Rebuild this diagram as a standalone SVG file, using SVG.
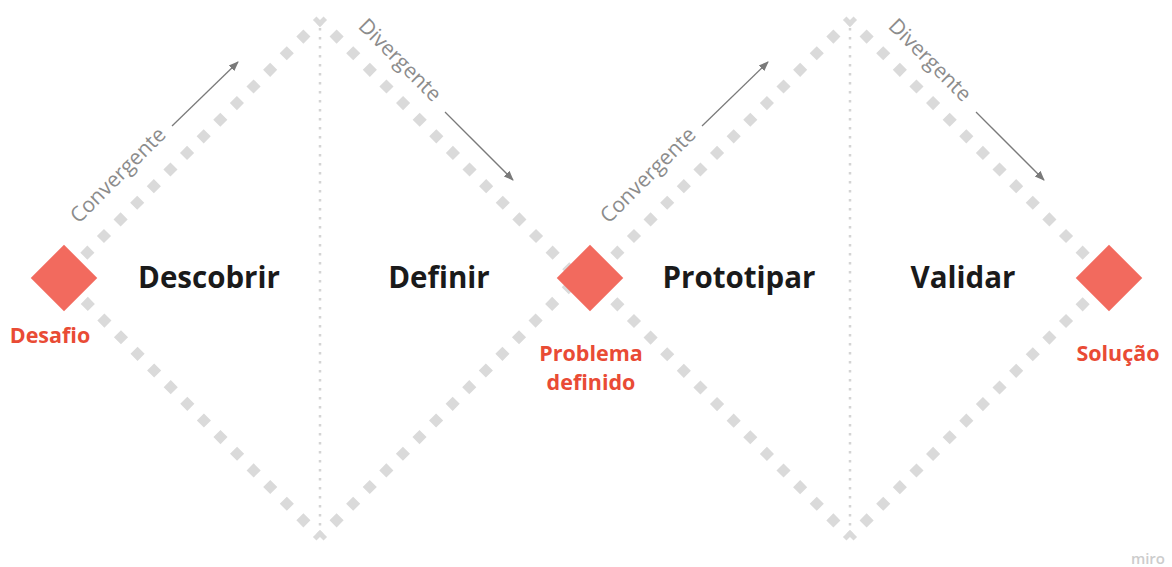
<svg xmlns="http://www.w3.org/2000/svg" width="1172" height="567" viewBox="0 0 1172 567">
  <defs>
    <style>
      .track { fill: none; stroke: #dadada; stroke-width: 10; stroke-dasharray: 10 13.5; stroke-dashoffset: 5; }
      .axis { fill: none; stroke: #d4d4d4; stroke-width: 2.5; stroke-dasharray: 2.5 6.5; }
      .flow { fill: none; stroke: #7a7a7a; stroke-width: 1.3; marker-end: url(#head); }
      .flowtxt { font-family: "Open Sans", "Noto Sans", sans-serif; font-size: 21px; fill: #8c8c8c; text-anchor: middle; }
      .phase { font-family: "Open Sans", "Noto Sans", sans-serif; font-size: 29.5px; font-weight: 700; fill: #1a1a1a; text-anchor: middle; }
      .mark { fill: #f26a5e; }
      .marktxt { font-family: "Open Sans", "Noto Sans", sans-serif; font-size: 21.5px; font-weight: 700; fill: #e94b35; text-anchor: middle; }
    </style>
    <marker id="head" viewBox="0 0 10 10" refX="9" refY="5" markerWidth="10" markerHeight="10" markerUnits="userSpaceOnUse" orient="auto">
      <path d="M0,1 L10,5 L0,9 Z" fill="#7a7a7a"/>
    </marker>
  </defs>
  <rect width="1172" height="567" fill="#ffffff"/>

  <!-- dotted diamond outlines and centre axes -->
  <g id="connectors">
    <line class="track" x1="320" y1="20" x2="62" y2="278"/>
    <line class="track" x1="320" y1="20" x2="578" y2="278"/>
    <line class="track" x1="320" y1="537" x2="62" y2="278"/>
    <line class="track" x1="320" y1="537" x2="578" y2="278"/>
    <line class="track" x1="850" y1="20" x2="591" y2="279"/>
    <line class="track" x1="850" y1="20" x2="1109" y2="279"/>
    <line class="track" x1="850" y1="537" x2="591" y2="278"/>
    <line class="track" x1="850" y1="537" x2="1109" y2="278"/>
    <line class="axis" x1="320" y1="28" x2="320" y2="530"/>
    <line class="axis" x1="850" y1="28" x2="850" y2="530"/>

    <line class="flow" x1="172" y1="126" x2="238" y2="62"/>
    <line class="flow" x1="445" y1="112" x2="513" y2="180"/>
    <line class="flow" x1="702" y1="126" x2="768" y2="62"/>
    <line class="flow" x1="976" y1="112" x2="1044" y2="180"/>
  </g>

  <g id="flow-labels">
    <text class="flowtxt" transform="translate(123,180) rotate(-45)">Convergente</text>
    <text class="flowtxt" transform="translate(395,65) rotate(45)">Divergente</text>
    <text class="flowtxt" transform="translate(653,180) rotate(-45)">Convergente</text>
    <text class="flowtxt" transform="translate(925,65) rotate(45)">Divergente</text>
  </g>

  <g id="phase-descobrir"><text class="phase" x="209" y="288">Descobrir</text></g>
  <g id="phase-definir"><text class="phase" x="439" y="288">Definir</text></g>
  <g id="phase-prototipar"><text class="phase" x="739" y="288">Prototipar</text></g>
  <g id="phase-validar"><text class="phase" x="963" y="288">Validar</text></g>

  <g id="node-desafio">
    <rect class="mark" x="40.5" y="254.5" width="47" height="47" transform="rotate(45 64 278)"/>
    <text class="marktxt" x="50" y="343">Desafio</text>
  </g>
  <g id="node-problema">
    <rect class="mark" x="566.5" y="254.5" width="47" height="47" transform="rotate(45 590 278)"/>
    <text class="marktxt" x="591" y="361">Problema</text>
    <text class="marktxt" x="591" y="390">definido</text>
  </g>
  <g id="node-solucao">
    <rect class="mark" x="1085.5" y="254.5" width="47" height="47" transform="rotate(45 1109 278)"/>
    <text class="marktxt" x="1118" y="361">Solução</text>
  </g>

  <g id="watermark">
    <text x="1165" y="564" font-family="Open Sans, sans-serif" font-size="15" font-weight="600" fill="#cccccc" text-anchor="end">miro</text>
  </g>
</svg>
